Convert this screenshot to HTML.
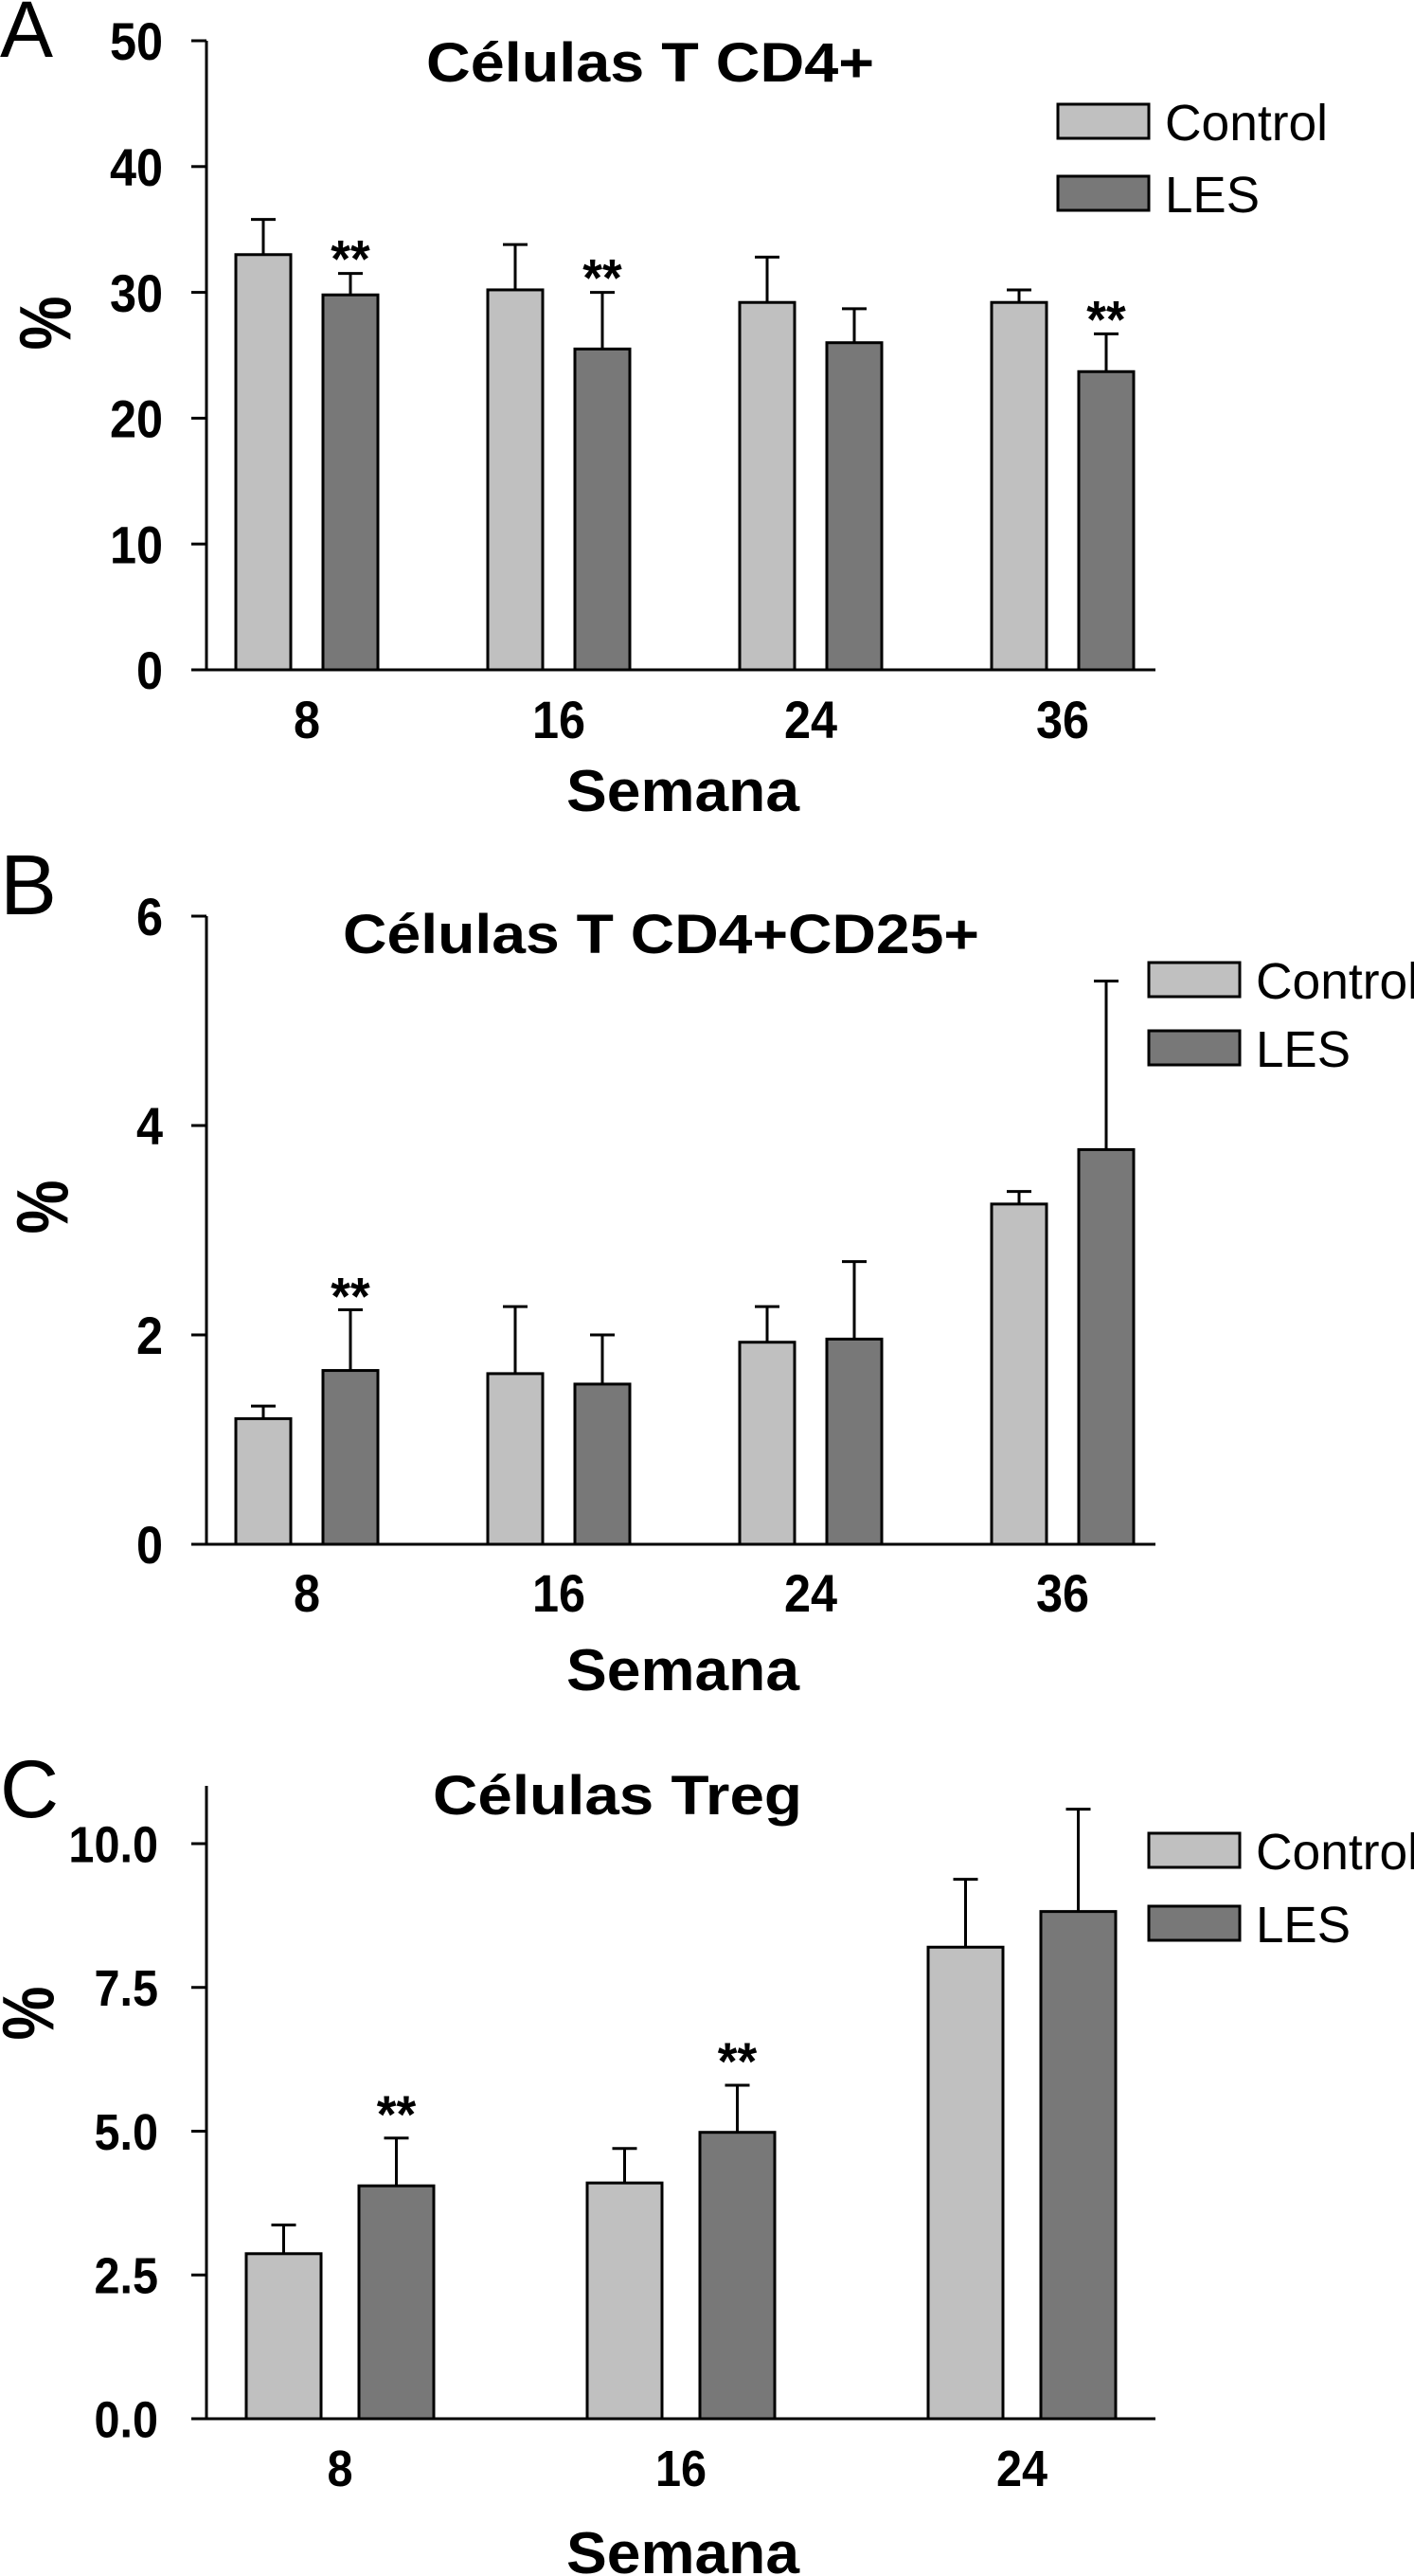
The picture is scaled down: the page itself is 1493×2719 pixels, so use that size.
<!DOCTYPE html>
<html><head><meta charset="utf-8"><style>
html,body{margin:0;padding:0;background:#fff;}
svg{display:block;font-family:"Liberation Sans",Arial,sans-serif;}
</style></head><body>
<svg id="fig" width="1493" height="2719" viewBox="0 0 1493 2719" xmlns="http://www.w3.org/2000/svg"></svg>
<script>
// ---- Panel A data ----
const catsA = ["8","16","24","36"];
const ctrlA = [33.0, 30.2, 29.2, 29.2];
const ctrlErrA = [35.8, 33.8, 32.8, 30.2];
const lesA = [29.8, 25.5, 26.0, 23.7];
const lesErrA = [31.5, 30.0, 28.7, 26.7];
const starsA = [true, true, false, true];
const ticksA = ["0","10","20","30","40","50"];
const tickValsA = [0,10,20,30,40,50];
// ---- Panel B data ----
const catsB = ["8","16","24","36"];
const ctrlB = [1.2, 1.63, 1.93, 3.25];
const ctrlErrB = [1.32, 2.27, 2.27, 3.37];
const lesB = [1.66, 1.53, 1.96, 3.77];
const lesErrB = [2.24, 2.0, 2.7, 5.38];
const starsB = [true, false, false, false];
const ticksB = ["0","2","4","6"];
const tickValsB = [0,2,4,6];
// ---- Panel C data ----
const catsC = ["8","16","24"];
const ctrlC = [2.87, 4.1, 8.2];
const ctrlErrC = [3.37, 4.7, 9.38];
const lesC = [4.05, 4.98, 8.82];
const lesErrC = [4.88, 5.8, 10.6];
const starsC = [true, true, false];
const ticksC = ["0.0","2.5","5.0","7.5","10.0"];
const tickValsC = [0,2.5,5,7.5,10];

const NS = "http://www.w3.org/2000/svg";
const svg = document.getElementById("fig");
function mk(tag, attrs, parent){
  const e = document.createElementNS(NS, tag);
  for (const k in attrs) e.setAttribute(k, attrs[k]);
  (parent||svg).appendChild(e);
  return e;
}
function txt(parent, s, x, y, size, weight, anchor, sx){
  const t = mk("text", {transform:`translate(${x},${y}) scale(${sx||1},1)`, x:0, y:0, "font-size":size, "font-weight":weight, "text-anchor":anchor, fill:"#000"}, parent);
  t.textContent = s;
  return t;
}

function panel(cfg){
  const g = mk("g", {});
  
  
  const ys = v => cfg.y0 - v * (cfg.y0 - cfg.yRef) / cfg.refVal;
  const xs = (i, s) => cfg.g0 + i * cfg.spacing + s * cfg.offset;
  const L = txt(g, cfg.letter, 0, cfg.letterY, cfg.letterSize, "normal", "start", 1);
  
  
  const T = mk("text", {x:cfg.titleX, y:cfg.titleY, "font-size":58, "font-weight":"bold", textLength:cfg.titleW, lengthAdjust:"spacingAndGlyphs"}, g);
  T.textContent = cfg.title;
  
  
  const ya = mk("line", {x1:218, y1:cfg.axisTop, x2:218, y2:cfg.y0+1.5, stroke:"#000", "stroke-width":3}, g);
  
  
  const xa = mk("line", {x1:203, y1:cfg.y0, x2:1220, y2:cfg.y0, stroke:"#000", "stroke-width":3}, g);
  
  
  cfg.tickVals.forEach((v,i)=>{
    const y = ys(v);
    const tk = mk("line", {x1:202, y1:y, x2:218, y2:y, stroke:"#000", "stroke-width":3}, g);
    
    
    const tl = txt(g, cfg.ticks[i], cfg.tickRight, y + cfg.tickFont*0.36, cfg.tickFont, "bold", "end", 0.9);
    
    
  });
  const yt = mk("text", {transform:`translate(${cfg.pctX},${cfg.pctY}) scale(1.2,1) rotate(-90)`, x:0, y:0, "font-size":64, "font-weight":"bold", "text-anchor":"middle", "dominant-baseline":"central"}, g);
  yt.textContent = "%";
  
  
  const series = [[cfg.ctrl, cfg.ctrlErr, "#c0c0c0", "control"], [cfg.les, cfg.lesErr, "#787878", "les"]];
  cfg.cats.forEach((c,i)=>{
    series.forEach((s,si)=>{
      const x = xs(i, si), w = cfg.barW, cx = x + w/2;
      const yv = ys(s[0][i]), ye = ys(s[1][i]);
      const el = mk("line", {x1:cx, y1:yv, x2:cx, y2:ye, stroke:"#000", "stroke-width":3}, g);
      
      
      const cap = mk("line", {x1:cx-13, y1:ye, x2:cx+13, y2:ye, stroke:"#000", "stroke-width":3}, g);
      
      
      const r = mk("rect", {x:x, y:yv, width:w, height:cfg.y0 - yv, fill:s[2], stroke:"#000", "stroke-width":3}, g);
      
      
    });
    if (cfg.stars[i]) {
      const cx = xs(i,1) + cfg.barW/2;
      const st = txt(g, "**", cx, ys(cfg.lesErr[i]) - cfg.starGap + 22, 56, "bold", "middle", 0.95);
      
      
    }
    const lx = (xs(i,0) + xs(i,1) + cfg.barW) / 2;
    const xl = txt(g, c, lx, cfg.xLabY, cfg.tickFont, "bold", "middle", 0.9);
    
    
  });
  const xt = mk("text", {x:598, y:cfg.semY, "font-size":62, "font-weight":"bold", textLength:246, lengthAdjust:"spacingAndGlyphs"}, g);
  xt.textContent = "Semana";
  
  
  const leg = mk("g", {}, g);
  
  
  [["Control","#c0c0c0",cfg.legY1],["LES","#787878",cfg.legY2]].forEach(([n,col,yy])=>{
    const b = mk("rect", {x:cfg.legX, y:yy, width:96, height:36, fill:col, stroke:"#000", "stroke-width":3}, leg);
    
    
    const lt = mk("text", {x:cfg.legX + 113, y:yy + 38, "font-size":54, textLength: n==="Control"?172:100, lengthAdjust:"spacingAndGlyphs"}, leg);
    lt.textContent = n;
    
    
  });
}

panel({name:"panel-a-cd4", letter:"A", letterY:60, letterSize:84, title:"Células T CD4+", titleX:450, titleY:86, titleW:473,
  y0:707, yRef:43, refVal:50, axisTop:43, ticks:ticksA, tickVals:tickValsA, tickRight:172, tickFont:56,
  cats:catsA, ctrl:ctrlA, ctrlErr:ctrlErrA, les:lesA, lesErr:lesErrA, stars:starsA, starGap:18,
  g0:249, spacing:266, offset:92, barW:58, xLabY:779, semY:856, pctX:48, pctY:341,
  legX:1117, legY1:110, legY2:186});
panel({name:"panel-b-cd4-cd25", letter:"B", letterY:965, letterSize:90, title:"Células T CD4+CD25+", titleX:362, titleY:1006, titleW:672,
  y0:1630, yRef:967, refVal:6, axisTop:967, ticks:ticksB, tickVals:tickValsB, tickRight:172, tickFont:56,
  cats:catsB, ctrl:ctrlB, ctrlErr:ctrlErrB, les:lesB, lesErr:lesErrB, stars:starsB, starGap:17,
  g0:249, spacing:266, offset:92, barW:58, xLabY:1701, semY:1784, pctX:45, pctY:1274,
  legX:1213, legY1:1016, legY2:1088});
panel({name:"panel-c-treg", letter:"C", letterY:1918, letterSize:86, title:"Células Treg", titleX:457, titleY:1915, titleW:390,
  y0:2553, yRef:1946, refVal:10, axisTop:1885, ticks:ticksC, tickVals:tickValsC, tickRight:167, tickFont:54,
  cats:catsC, ctrl:ctrlC, ctrlErr:ctrlErrC, les:lesC, lesErr:lesErrC, stars:starsC, starGap:28,
  g0:260, spacing:360, offset:119, barW:79, xLabY:2624, semY:2716, pctX:30, pctY:2125,
  legX:1213, legY1:1935, legY2:2012});
</script>
</body></html>
